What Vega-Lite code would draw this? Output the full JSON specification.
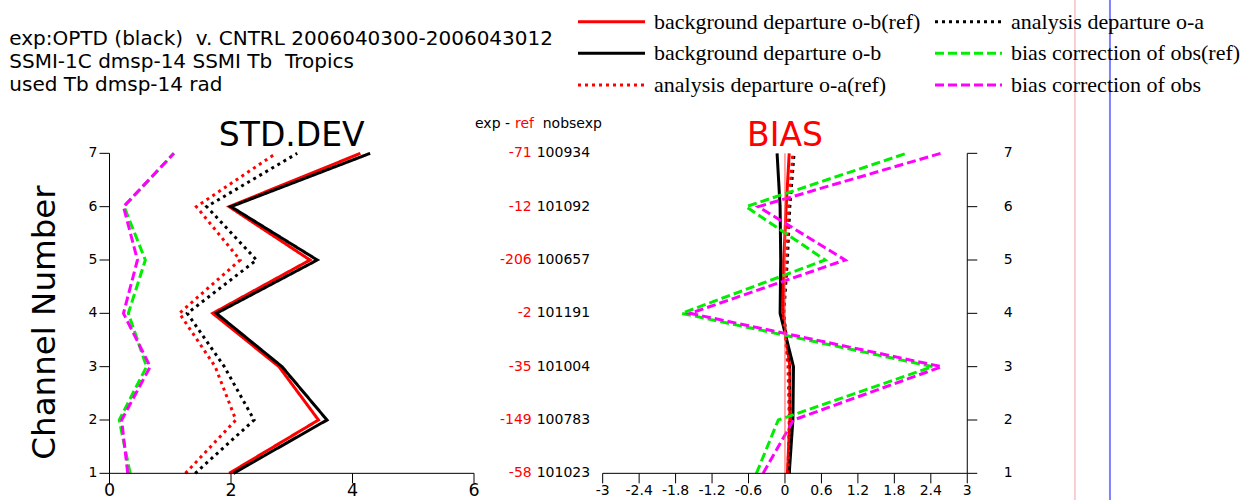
{
  "$schema": "https://vega.github.io/schema/vega-lite/v6.json",
  "width": 1253,
  "height": 500,
  "autosize": {"type": "none"},
  "padding": 0,
  "background": "white",
  "config": {
    "view": {"stroke": null},
    "text": {"font": "DejaVu Sans", "color": "#000"}
  },
  "datasets": {
    "one": [{}],
    "stdx": [{"v": 0}, {"v": 2}, {"v": 4}, {"v": 6}],
    "biasx": [{"v": -3}, {"v": -2.4}, {"v": -1.8}, {"v": -1.2}, {"v": -0.6}, {"v": 0}, {"v": 0.6}, {"v": 1.2}, {"v": 1.8}, {"v": 2.4}, {"v": 3}],
    "std": [
      {"channel": 7, "series": "background departure o-b(ref)", "value": 4.13},
      {"channel": 6, "series": "background departure o-b(ref)", "value": 1.97},
      {"channel": 5, "series": "background departure o-b(ref)", "value": 3.30},
      {"channel": 4, "series": "background departure o-b(ref)", "value": 1.70},
      {"channel": 3, "series": "background departure o-b(ref)", "value": 2.79},
      {"channel": 2, "series": "background departure o-b(ref)", "value": 3.44},
      {"channel": 1, "series": "background departure o-b(ref)", "value": 1.97},
      {"channel": 7, "series": "background departure o-b", "value": 4.29},
      {"channel": 6, "series": "background departure o-b", "value": 2.00},
      {"channel": 5, "series": "background departure o-b", "value": 3.42},
      {"channel": 4, "series": "background departure o-b", "value": 1.76},
      {"channel": 3, "series": "background departure o-b", "value": 2.84},
      {"channel": 2, "series": "background departure o-b", "value": 3.58},
      {"channel": 1, "series": "background departure o-b", "value": 2.04},
      {"channel": 7, "series": "analysis departure o-a", "value": 3.09},
      {"channel": 6, "series": "analysis departure o-a", "value": 1.60},
      {"channel": 5, "series": "analysis departure o-a", "value": 2.42},
      {"channel": 4, "series": "analysis departure o-a", "value": 1.28},
      {"channel": 3, "series": "analysis departure o-a", "value": 1.89},
      {"channel": 2, "series": "analysis departure o-a", "value": 2.38},
      {"channel": 1, "series": "analysis departure o-a", "value": 1.41},
      {"channel": 7, "series": "analysis departure o-a(ref)", "value": 2.74},
      {"channel": 6, "series": "analysis departure o-a(ref)", "value": 1.43},
      {"channel": 5, "series": "analysis departure o-a(ref)", "value": 2.15},
      {"channel": 4, "series": "analysis departure o-a(ref)", "value": 1.15},
      {"channel": 3, "series": "analysis departure o-a(ref)", "value": 1.74},
      {"channel": 2, "series": "analysis departure o-a(ref)", "value": 2.08},
      {"channel": 1, "series": "analysis departure o-a(ref)", "value": 1.25},
      {"channel": 7, "series": "bias correction of obs(ref)", "value": 1.06},
      {"channel": 6, "series": "bias correction of obs(ref)", "value": 0.24},
      {"channel": 5, "series": "bias correction of obs(ref)", "value": 0.59},
      {"channel": 4, "series": "bias correction of obs(ref)", "value": 0.31},
      {"channel": 3, "series": "bias correction of obs(ref)", "value": 0.61},
      {"channel": 2, "series": "bias correction of obs(ref)", "value": 0.16},
      {"channel": 1, "series": "bias correction of obs(ref)", "value": 0.34},
      {"channel": 7, "series": "bias correction of obs", "value": 1.06},
      {"channel": 6, "series": "bias correction of obs", "value": 0.23},
      {"channel": 5, "series": "bias correction of obs", "value": 0.46},
      {"channel": 4, "series": "bias correction of obs", "value": 0.23},
      {"channel": 3, "series": "bias correction of obs", "value": 0.67},
      {"channel": 2, "series": "bias correction of obs", "value": 0.20},
      {"channel": 1, "series": "bias correction of obs", "value": 0.30}
    ],
    "bias": [
      {"channel": 7, "series": "background departure o-b(ref)", "value": 0.07},
      {"channel": 6, "series": "background departure o-b(ref)", "value": 0.02},
      {"channel": 5, "series": "background departure o-b(ref)", "value": -0.02},
      {"channel": 4, "series": "background departure o-b(ref)", "value": -0.03},
      {"channel": 3, "series": "background departure o-b(ref)", "value": 0.08},
      {"channel": 2, "series": "background departure o-b(ref)", "value": 0.08},
      {"channel": 1, "series": "background departure o-b(ref)", "value": 0.04},
      {"channel": 7, "series": "background departure o-b", "value": -0.13},
      {"channel": 6, "series": "background departure o-b", "value": -0.08},
      {"channel": 5, "series": "background departure o-b", "value": -0.07},
      {"channel": 4, "series": "background departure o-b", "value": -0.08},
      {"channel": 3, "series": "background departure o-b", "value": 0.14},
      {"channel": 2, "series": "background departure o-b", "value": 0.13},
      {"channel": 1, "series": "background departure o-b", "value": 0.07},
      {"channel": 7, "series": "analysis departure o-a", "value": 0.15},
      {"channel": 6, "series": "analysis departure o-a", "value": 0.08},
      {"channel": 5, "series": "analysis departure o-a", "value": 0.04},
      {"channel": 4, "series": "analysis departure o-a", "value": -0.02},
      {"channel": 3, "series": "analysis departure o-a", "value": 0.07},
      {"channel": 2, "series": "analysis departure o-a", "value": 0.08},
      {"channel": 1, "series": "analysis departure o-a", "value": 0.07},
      {"channel": 7, "series": "analysis departure o-a(ref)", "value": 0.13},
      {"channel": 6, "series": "analysis departure o-a(ref)", "value": 0.06},
      {"channel": 5, "series": "analysis departure o-a(ref)", "value": 0.02},
      {"channel": 4, "series": "analysis departure o-a(ref)", "value": -0.03},
      {"channel": 3, "series": "analysis departure o-a(ref)", "value": 0.05},
      {"channel": 2, "series": "analysis departure o-a(ref)", "value": 0.07},
      {"channel": 1, "series": "analysis departure o-a(ref)", "value": 0.05},
      {"channel": 7, "series": "bias correction of obs(ref)", "value": 2.00},
      {"channel": 6, "series": "bias correction of obs(ref)", "value": -0.64},
      {"channel": 5, "series": "bias correction of obs(ref)", "value": 0.66},
      {"channel": 4, "series": "bias correction of obs(ref)", "value": -1.70},
      {"channel": 3, "series": "bias correction of obs(ref)", "value": 2.43},
      {"channel": 2, "series": "bias correction of obs(ref)", "value": -0.11},
      {"channel": 1, "series": "bias correction of obs(ref)", "value": -0.47},
      {"channel": 7, "series": "bias correction of obs", "value": 2.56},
      {"channel": 6, "series": "bias correction of obs", "value": -0.44},
      {"channel": 5, "series": "bias correction of obs", "value": 0.99},
      {"channel": 4, "series": "bias correction of obs", "value": -1.56},
      {"channel": 3, "series": "bias correction of obs", "value": 2.58},
      {"channel": 2, "series": "bias correction of obs", "value": 0.14},
      {"channel": 1, "series": "bias correction of obs", "value": -0.36}
    ],
    "nobs": [
      {"channel": 7, "diff": -71, "nobs": 100934},
      {"channel": 6, "diff": -12, "nobs": 101092},
      {"channel": 5, "diff": -206, "nobs": 100657},
      {"channel": 4, "diff": -2, "nobs": 101191},
      {"channel": 3, "diff": -35, "nobs": 101004},
      {"channel": 2, "diff": -149, "nobs": 100783},
      {"channel": 1, "diff": -58, "nobs": 101023}
    ]
  },
  "layer": [
    {
      "layer": [
        {
          "data": {"name": "std"},
          "mark": {"type": "line", "strokeWidth": 3, "clip": false},
          "encoding": {
            "x": {"field": "value", "type": "quantitative", "scale": {"domain": [-1.8025, 18.823], "nice": false, "zero": false}, "axis": null},
            "y": {"field": "channel", "type": "quantitative", "scale": {"domain": [0.5, 9.875], "nice": false, "zero": false}, "axis": null},
            "color": {"field": "series", "type": "nominal",
              "scale": {"domain": ["background departure o-b(ref)", "background departure o-b", "analysis departure o-a(ref)", "analysis departure o-a", "bias correction of obs(ref)", "bias correction of obs"],
                        "range": ["#ff0000", "#000000", "#ff0000", "#000000", "#00ee00", "#ff00ff"]},
              "legend": {"orient": "none", "legendX": 578, "legendY": 10, "columns": 2, "title": null, "symbolType": "M-3.35,0H3.35", "symbolSize": 400, "symbolStrokeWidth": 3, "symbolOffset": 22, "labelOffset": 31, "labelFont": "Liberation Serif", "labelFontSize": 22, "labelLimit": 500, "rowPadding": 8.7, "columnPadding": 8, "labelColor": "#000"}},
            "strokeDash": {"field": "series", "type": "nominal",
              "scale": {"domain": ["background departure o-b(ref)", "background departure o-b", "analysis departure o-a(ref)", "analysis departure o-a", "bias correction of obs(ref)", "bias correction of obs"],
                        "range": [[1, 0], [1, 0], [3, 4], [3, 4], [9, 4], [9, 4]]},
              "legend": {"orient": "none", "legendX": 578, "legendY": 10, "columns": 2, "title": null, "symbolType": "M-3.35,0H3.35", "symbolSize": 400, "symbolStrokeWidth": 3, "symbolOffset": 22, "labelOffset": 31, "labelFont": "Liberation Serif", "labelFontSize": 22, "labelLimit": 500, "rowPadding": 8.7, "columnPadding": 8, "labelColor": "#000"}},
            "order": {"field": "channel", "type": "quantitative"}
          }
        },
        {
          "data": {"name": "one"},
          "mark": {"type": "rule", "color": "#000", "strokeWidth": 1},
          "encoding": {"x": {"datum": 0, "axis": null}, "x2": {"datum": 6}, "y": {"datum": 1, "axis": null}}
        },
        {
          "data": {"name": "one"},
          "mark": {"type": "rule", "color": "#000", "strokeWidth": 1},
          "encoding": {"x": {"datum": 0, "axis": null}, "y": {"datum": 1, "axis": null}, "y2": {"datum": 7}}
        },
        {
          "data": {"name": "stdx"},
          "mark": {"type": "rule", "color": "#000", "strokeWidth": 1},
          "encoding": {"x": {"field": "v", "type": "quantitative", "axis": null}, "y": {"datum": 1, "axis": null}, "y2": {"datum": 0.8125}}
        },
        {
          "data": {"name": "stdx"},
          "mark": {"type": "text", "align": "center", "baseline": "top", "fontSize": 17.5},
          "encoding": {"x": {"field": "v", "type": "quantitative", "axis": null}, "y": {"datum": 0.8375, "axis": null}, "text": {"field": "v", "type": "nominal"}}
        },
        {
          "data": {"name": "nobs"},
          "mark": {"type": "rule", "color": "#000", "strokeWidth": 1},
          "encoding": {"x": {"datum": 0, "axis": null}, "x2": {"datum": -0.1646}, "y": {"field": "channel", "type": "quantitative", "axis": null}}
        },
        {
          "data": {"name": "nobs"},
          "mark": {"type": "text", "align": "right", "baseline": "middle", "fontSize": 14},
          "encoding": {"x": {"datum": -0.2, "axis": null}, "y": {"field": "channel", "type": "quantitative", "axis": null}, "text": {"field": "channel", "type": "nominal"}}
        },
        {
          "data": {"name": "one"},
          "mark": {"type": "text", "text": ["exp:OPTD (black)\u00a0 v. CNTRL 2006040300-2006043012", "SSMI-1C dmsp-14 SSMI Tb\u00a0 Tropics", "used Tb dmsp-14 rad"], "align": "left", "baseline": "alphabetic", "fontSize": 20, "lineHeight": 22.8},
          "encoding": {"x": {"datum": -1.649, "axis": null}, "y": {"datum": 9.022, "axis": null}}
        },
        {
          "data": {"name": "one"},
          "mark": {"type": "text", "text": "STD.DEV", "align": "center", "baseline": "alphabetic", "fontSize": 33},
          "encoding": {"x": {"datum": 3, "axis": null}, "y": {"datum": 7.1375, "axis": null}}
        },
        {
          "data": {"name": "one"},
          "mark": {"type": "text", "text": "Channel Number", "align": "center", "baseline": "alphabetic", "fontSize": 32.5, "angle": 270},
          "encoding": {"x": {"datum": -0.897, "axis": null}, "y": {"datum": 3.828, "axis": null}}
        },
        {
          "data": {"name": "one"},
          "mark": {"type": "text", "text": "exp -", "align": "right", "baseline": "middle", "fontSize": 14},
          "encoding": {"x": {"datum": 6.593, "axis": null}, "y": {"datum": 7.55, "axis": null}}
        },
        {
          "data": {"name": "one"},
          "mark": {"type": "text", "text": "ref", "align": "left", "baseline": "middle", "fontSize": 14, "color": "#ff0000"},
          "encoding": {"x": {"datum": 6.675, "axis": null}, "y": {"datum": 7.55, "axis": null}}
        },
        {
          "data": {"name": "one"},
          "mark": {"type": "text", "text": "nobsexp", "align": "left", "baseline": "middle", "fontSize": 14},
          "encoding": {"x": {"datum": 7.131, "axis": null}, "y": {"datum": 7.55, "axis": null}}
        },
        {
          "data": {"name": "nobs"},
          "mark": {"type": "text", "align": "right", "baseline": "middle", "fontSize": 14, "color": "#ff0000"},
          "encoding": {"x": {"datum": 6.95, "axis": null}, "y": {"field": "channel", "type": "quantitative", "axis": null}, "text": {"field": "diff", "type": "nominal"}}
        },
        {
          "data": {"name": "nobs"},
          "mark": {"type": "text", "align": "left", "baseline": "middle", "fontSize": 14},
          "encoding": {"x": {"datum": 7.032, "axis": null}, "y": {"field": "channel", "type": "quantitative", "axis": null}, "text": {"field": "nobs", "type": "nominal"}}
        }
      ]
    },
    {
      "layer": [
        {
          "data": {"name": "bias"},
          "mark": {"type": "line", "strokeWidth": 3, "clip": false},
          "encoding": {
            "x": {"field": "value", "type": "quantitative", "scale": {"domain": [-12.918, 7.702], "nice": false, "zero": false}, "axis": null},
            "y": {"field": "channel", "type": "quantitative", "scale": {"domain": [0.5, 9.875], "nice": false, "zero": false}, "axis": null},
            "color": {"field": "series", "type": "nominal",
              "scale": {"domain": ["background departure o-b(ref)", "background departure o-b", "analysis departure o-a(ref)", "analysis departure o-a", "bias correction of obs(ref)", "bias correction of obs"],
                        "range": ["#ff0000", "#000000", "#ff0000", "#000000", "#00ee00", "#ff00ff"]},
              "legend": null},
            "strokeDash": {"field": "series", "type": "nominal",
              "scale": {"domain": ["background departure o-b(ref)", "background departure o-b", "analysis departure o-a(ref)", "analysis departure o-a", "bias correction of obs(ref)", "bias correction of obs"],
                        "range": [[1, 0], [1, 0], [3, 4], [3, 4], [9, 4], [9, 4]]},
              "legend": null},
            "order": {"field": "channel", "type": "quantitative"}
          }
        },
        {
          "data": {"name": "one"},
          "mark": {"type": "rule", "color": "#ff5555", "strokeWidth": 1},
          "encoding": {"x": {"datum": 0, "axis": null}, "y": {"datum": 1, "axis": null}, "y2": {"datum": 7}}
        },
        {
          "data": {"name": "one"},
          "mark": {"type": "rule", "color": "#000", "strokeWidth": 1},
          "encoding": {"x": {"datum": -3, "axis": null}, "x2": {"datum": 3}, "y": {"datum": 1, "axis": null}}
        },
        {
          "data": {"name": "one"},
          "mark": {"type": "rule", "color": "#000", "strokeWidth": 1},
          "encoding": {"x": {"datum": 3, "axis": null}, "y": {"datum": 1, "axis": null}, "y2": {"datum": 7}}
        },
        {
          "data": {"name": "biasx"},
          "mark": {"type": "rule", "color": "#000", "strokeWidth": 1},
          "encoding": {"x": {"field": "v", "type": "quantitative", "axis": null}, "y": {"datum": 1, "axis": null}, "y2": {"datum": 0.8125}}
        },
        {
          "data": {"name": "biasx"},
          "mark": {"type": "text", "align": "center", "baseline": "top", "fontSize": 14},
          "encoding": {"x": {"field": "v", "type": "quantitative", "axis": null}, "y": {"datum": 0.8, "axis": null}, "text": {"field": "v", "type": "nominal"}}
        },
        {
          "data": {"name": "nobs"},
          "mark": {"type": "rule", "color": "#000", "strokeWidth": 1},
          "encoding": {"x": {"datum": 3, "axis": null}, "x2": {"datum": 3.1646}, "y": {"field": "channel", "type": "quantitative", "axis": null}}
        },
        {
          "data": {"name": "nobs"},
          "mark": {"type": "text", "align": "left", "baseline": "middle", "fontSize": 14},
          "encoding": {"x": {"datum": 3.6, "axis": null}, "y": {"field": "channel", "type": "quantitative", "axis": null}, "text": {"field": "channel", "type": "nominal"}}
        },
        {
          "data": {"name": "one"},
          "mark": {"type": "rule", "color": "#f2a0a8", "strokeWidth": 1},
          "encoding": {"x": {"datum": 4.772, "axis": null}}
        },
        {
          "data": {"name": "one"},
          "mark": {"type": "rule", "color": "#7f7fff", "strokeWidth": 2},
          "encoding": {"x": {"datum": 5.348, "axis": null}}
        },
        {
          "data": {"name": "one"},
          "mark": {"type": "text", "text": "BIAS", "align": "center", "baseline": "alphabetic", "fontSize": 33, "color": "#ff0000"},
          "encoding": {"x": {"datum": 0, "axis": null}, "y": {"datum": 7.1375, "axis": null}}
        }
      ]
    }
  ],
  "resolve": {"scale": {"x": "independent", "y": "independent"}}
}
